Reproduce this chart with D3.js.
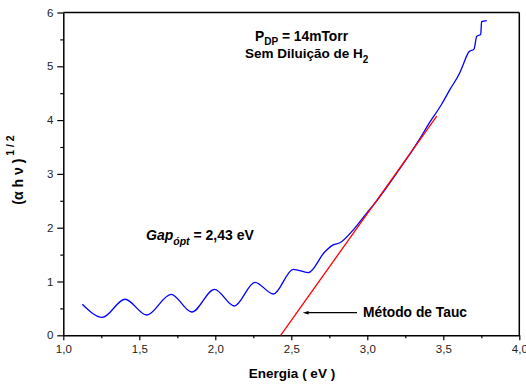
<!DOCTYPE html>
<html>
<head>
<meta charset="utf-8">
<script src="https://cdn.jsdelivr.net/npm/d3@7/dist/d3.min.js"></script>
<style>
  html, body { margin: 0; padding: 0; background: #fff; }
  svg { display: block; font-family: "Liberation Sans", Arial, sans-serif; }
</style>
</head>
<body>
<svg id="chart" width="526" height="385"></svg>
<script>
// ---- data ----
const energy = [1.125, 1.257, 1.406, 1.549, 1.709, 1.845, 1.995, 2.125, 2.261, 2.382,
  2.513, 2.612, 2.72, 2.776, 2.82, 2.908, 2.996, 3.057, 3.2, 3.347, 3.40, 3.49,
  3.544, 3.61, 3.632, 3.669, 3.702, 3.72, 3.746, 3.752, 3.786];
const tauc = [0.576, 0.335, 0.67, 0.377, 0.762, 0.433, 0.855, 0.545, 0.985, 0.768,
  1.227, 1.164, 1.55, 1.68, 1.72, 1.96, 2.27, 2.48, 3.04, 3.66, 3.91, 4.30,
  4.57, 4.89, 5.04, 5.27, 5.32, 5.56, 5.59, 5.83, 5.85];
const fitX = [2.43, 3.457];
const fitY = [0, 4.076];
const xTickValues = [1.0, 1.5, 2.0, 2.5, 3.0, 3.5, 4.0];
const xTickLabels = ["1,0", "1,5", "2,0", "2,5", "3,0", "3,5", "4,0"];
const yTickValues = [0, 1, 2, 3, 4, 5, 6];
const yTickLabels = ["0", "1", "2", "3", "4", "5", "6"];
const xMinorTicks = [1.25, 1.75, 2.25, 2.75, 3.25, 3.75];
const yMinorTicks = [0.5, 1.5, 2.5, 3.5, 4.5, 5.5];

// ---- layout ----
const svg = d3.select("#chart");
const pL = 63.3, pR = 519.3, pT = 12.5, pB = 335.3;
const x = d3.scaleLinear().domain([1, 4]).range([pL, pR]);
const y = d3.scaleLinear().domain([0, 6]).range([pB, pT]);

// frame top/right
svg.append("line").attr("x1", pL).attr("x2", pR).attr("y1", pT).attr("y2", pT)
  .attr("stroke", "#000").attr("stroke-width", 1.5);
svg.append("line").attr("x1", pR).attr("x2", pR).attr("y1", pT).attr("y2", pB)
  .attr("stroke", "#000").attr("stroke-width", 1.5);

// axes
const xAxis = d3.axisBottom(x).tickValues(xTickValues)
  .tickFormat((d, i) => xTickLabels[i]).tickSize(5).tickSizeOuter(0);
const gx = svg.append("g").attr("transform", `translate(0,${pB})`).call(xAxis);
const xMinor = d3.axisBottom(x).tickValues(xMinorTicks).tickFormat("").tickSize(3).tickSizeOuter(0);
svg.append("g").attr("transform", `translate(0,${pB})`).call(xMinor)
  .call(g => g.select(".domain").remove());

const yAxis = d3.axisLeft(y).tickValues(yTickValues)
  .tickFormat((d, i) => yTickLabels[i]).tickSize(6).tickSizeOuter(0);
const gy = svg.append("g").attr("transform", `translate(${pL},0)`).call(yAxis);
const yMinor = d3.axisLeft(y).tickValues(yMinorTicks).tickFormat("").tickSize(3).tickSizeOuter(0);
svg.append("g").attr("transform", `translate(${pL},0)`).call(yMinor)
  .call(g => g.select(".domain").remove());

svg.selectAll(".domain").attr("stroke-width", 1.5).attr("stroke", "#000");
svg.selectAll(".tick line").attr("stroke", "#000").attr("stroke-width", 1.2);
svg.selectAll(".tick text").attr("font-size", 11.5).attr("fill", "#222")
  .attr("font-family", "'Liberation Sans', Arial, sans-serif");
gx.selectAll(".tick text").attr("dy", "0.71em").attr("y", 10);
gy.selectAll(".tick text").attr("x", -10);

// data lines
const pts = energy.map((e, i) => [e, tauc[i]]);
const line = d3.line().x(d => x(d[0])).y(d => y(d[1])).curve(d3.curveMonotoneX);
svg.append("path").datum(pts).attr("d", line)
  .attr("fill", "none").attr("stroke", "#0000ff").attr("stroke-width", 1.3);

const fit = fitX.map((e, i) => [e, fitY[i]]);
svg.append("path").datum(fit).attr("d", d3.line().x(d => x(d[0])).y(d => y(d[1])))
  .attr("fill", "none").attr("stroke", "#ff0000").attr("stroke-width", 1.3);

// axis titles
svg.append("text").attr("x", 292).attr("y", 378).attr("text-anchor", "middle")
  .attr("font-size", 13.5).attr("font-weight", "bold").text("Energia ( eV )");

const yl = svg.append("text").attr("transform", "translate(23,170) rotate(-90)")
  .attr("text-anchor", "middle").attr("font-weight", "bold").attr("font-size", 14);
yl.append("tspan").text("(α h ν )");
yl.append("tspan").attr("dy", -9).attr("font-size", 10.5).text(" 1 / 2");

// annotations
const t1 = svg.append("text").attr("x", 255).attr("y", 41).attr("font-weight", "bold").attr("font-size", 13.8);
t1.append("tspan").text("P");
t1.append("tspan").attr("dy", 4).attr("font-size", 10).text("DP");
t1.append("tspan").attr("dy", -4).text(" = 14mTorr");

const t2 = svg.append("text").attr("x", 245).attr("y", 58).attr("font-weight", "bold").attr("font-size", 13.5);
t2.append("tspan").text("Sem Diluição de H");
t2.append("tspan").attr("dy", 5).attr("font-size", 10).text("2");

const t3 = svg.append("text").attr("x", 146).attr("y", 240).attr("font-weight", "bold").attr("font-size", 14);
t3.append("tspan").attr("font-style", "italic").text("Gap");
t3.append("tspan").attr("dy", 5).attr("font-size", 10.5).attr("font-style", "italic").text("ópt");
t3.append("tspan").attr("dy", -5).text(" = 2,43 eV");

svg.append("text").attr("x", 363).attr("y", 317).attr("font-weight", "bold").attr("font-size", 13.8)
  .text("Método de Tauc");

// arrow
svg.append("defs").append("marker").attr("id", "ah").attr("viewBox", "0 0 10 10")
  .attr("refX", 1).attr("refY", 5).attr("markerWidth", 8).attr("markerHeight", 6)
  .attr("orient", "auto-start-reverse").attr("markerUnits", "userSpaceOnUse")
  .append("path").attr("d", "M0,2 L10,5 L0,8 Z").attr("fill", "#000");
svg.append("line").attr("x1", 357).attr("y1", 312.7).attr("x2", 308).attr("y2", 312.7)
  .attr("stroke", "#000").attr("stroke-width", 1.2).attr("marker-end", "url(#ah)");
</script>
</body>
</html>
